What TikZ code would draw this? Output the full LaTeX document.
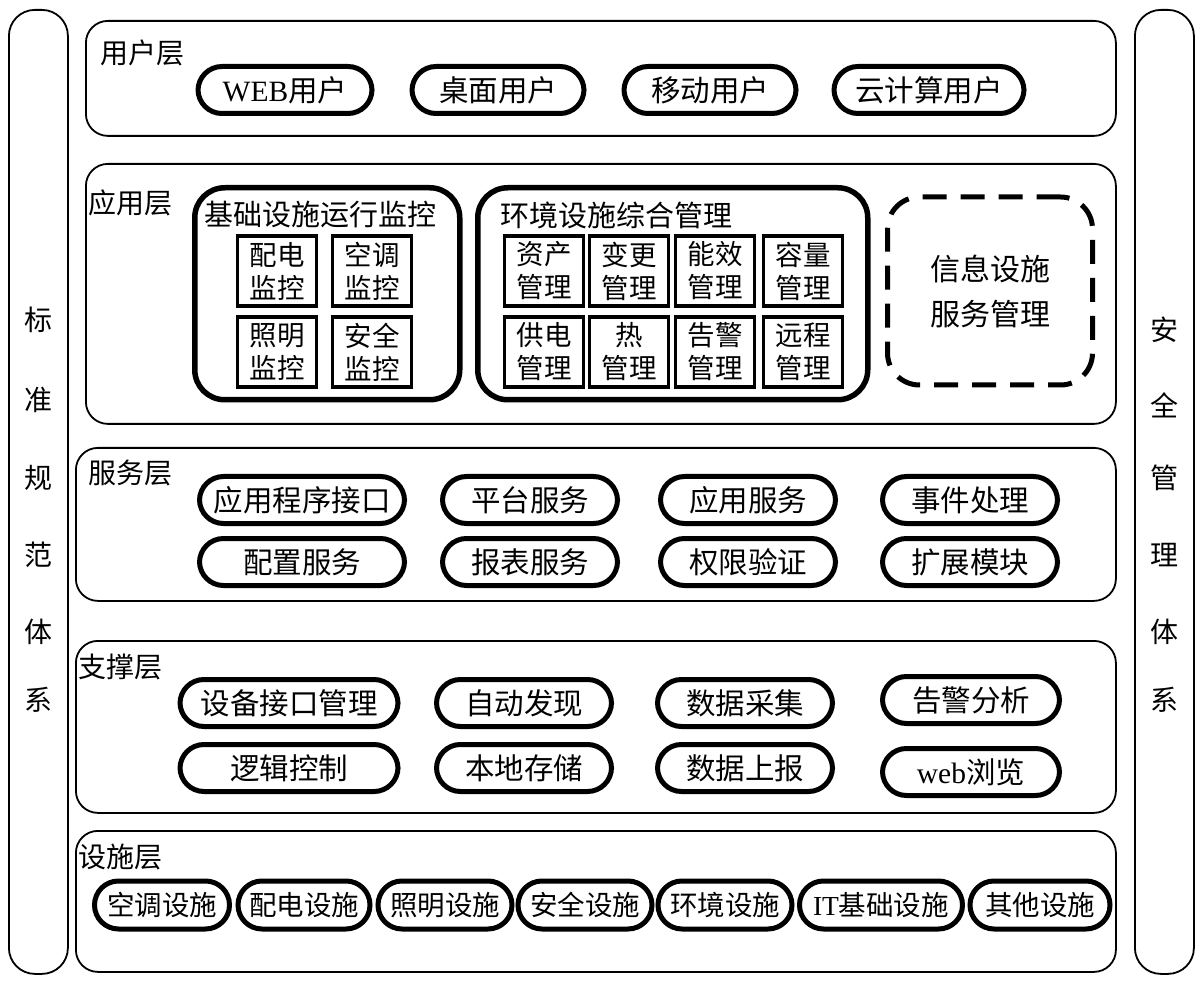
\documentclass[tikz,border=0pt]{standalone}
\usepackage{fontspec}
\setmainfont{Liberation Serif}
\newfontfamily\cjk{Noto Sans CJK SC}
\newfontfamily\lat{Liberation Serif}
\begin{document}
\begin{tikzpicture}[x=1pt,y=-1pt,
  layer/.style={draw, line width=1.8pt, rounded corners=22pt, anchor=north west, inner sep=0pt},
  sidebar/.style={draw, line width=1.8pt, rounded corners=26pt, anchor=north west, inner sep=0pt},
  pill/.style={draw, line width=5pt, rounded corners=24pt, minimum height=47pt, inner sep=0pt, font=\cjk\fontsize{29.5}{30}\selectfont},
  fpill/.style={pill, minimum height=48pt, font=\cjk\fontsize{27.5}{28}\selectfont},
  sq/.style={draw, line width=3.5pt, minimum width=79pt, minimum height=70pt, inner sep=0pt, align=center, font=\cjk\fontsize{27.5}{33}\selectfont},
  bigbox/.style={draw, line width=5.5pt, rounded corners=30pt, anchor=north west, inner sep=0pt},
  lab/.style={font=\cjk\fontsize{28}{28}\selectfont, inner sep=0pt},
  side/.style={font=\cjk\fontsize{28}{28}\selectfont, inner sep=0pt}]
\useasboundingbox (0,0) rectangle (1200,981);
% side bars
\node[sidebar, minimum width=59pt, minimum height=964pt] (lbar) at (8,9) {};
\node[sidebar, minimum width=59pt, minimum height=964pt] (rbar) at (1134,9) {};
\foreach \c/\y [count=\i] in {标/320,准/400,规/478,范/555,体/632,系/700}
  \node[side] (ls\i) at (38,\y) {\c};
\foreach \c/\y [count=\i] in {安/330,全/405,管/478,理/555,体/632,系/700}
  \node[side] (rs\i) at (1164,\y) {\c};
% layers
\node[layer, minimum width=1030pt, minimum height=115pt] (user) at (85,20) {};
\node[layer, minimum width=1030pt, minimum height=260pt] (app) at (85,163) {};
\node[layer, minimum width=1040pt, minimum height=153pt] (svc) at (75,447) {};
\node[layer, minimum width=1040pt, minimum height=172pt] (sup) at (75,640) {};
\node[layer, minimum width=1040pt, minimum height=141pt] (fac) at (75,830) {};
% layer labels
\node[lab, anchor=west] (userlab) at (100,53) {用户层};
\node[lab, anchor=west] (applab) at (88,203) {应用层};
\node[lab, anchor=west] (svclab) at (88,473) {服务层};
\node[lab, anchor=west] (suplab) at (78,667) {支撑层};
\node[lab, anchor=west] (faclab) at (78,857) {设施层};
% user layer
\node[pill, minimum width=174pt] (u1) at (285,90) {{\lat WEB}用户};
\node[pill, minimum width=172pt] (u2) at (498,90) {桌面用户};
\node[pill, minimum width=172pt] (u3) at (710,90) {移动用户};
\node[pill, minimum width=190pt] (u4) at (929,90) {云计算用户};
% app layer
\node[bigbox, minimum width=265pt, minimum height=212pt] (mon) at (192,185) {};
\node[lab, anchor=west, font=\cjk\fontsize{29}{29}\selectfont] (montitle) at (204,215) {基础设施运行监控};
\node[sq] (m1) at (277,271) {配电\\监控};
\node[sq] (m2) at (372,271) {空调\\监控};
\node[sq] (m3) at (277,352) {照明\\监控};
\node[sq] (m4) at (372,352) {安全\\监控};
\node[bigbox, minimum width=390pt, minimum height=212pt] (env) at (475,185) {};
\node[lab, anchor=west, font=\cjk\fontsize{29}{29}\selectfont] (envtitle) at (500,215) {环境设施综合管理};
\node[sq] (e1) at (544,271) {资产\\管理};
\node[sq] (e2) at (629,271) {变更\\管理};
\node[sq] (e3) at (715,271) {能效\\管理};
\node[sq] (e4) at (803,271) {容量\\管理};
\node[sq] (e5) at (544,352) {供电\\管理};
\node[sq] (e6) at (629,352) {热\\管理};
\node[sq] (e7) at (715,352) {告警\\管理};
\node[sq] (e8) at (803,352) {远程\\管理};
\node[draw, line width=5pt, dash pattern=on 24pt off 14pt, rounded corners=32pt, minimum width=205pt, minimum height=188pt, inner sep=0pt, align=center, font=\cjk\fontsize{30}{45}\selectfont] (info) at (990,291) {信息设施\\服务管理};
% service layer
\node[pill, minimum width=205pt] (s1) at (302,500) {应用程序接口};
\node[pill, minimum width=175pt] (s2) at (530,500) {平台服务};
\node[pill, minimum width=175pt] (s3) at (748,500) {应用服务};
\node[pill, minimum width=175pt] (s4) at (970,500) {事件处理};
\node[pill, minimum width=205pt] (s5) at (302,562) {配置服务};
\node[pill, minimum width=175pt] (s6) at (530,562) {报表服务};
\node[pill, minimum width=175pt] (s7) at (748,562) {权限验证};
\node[pill, minimum width=175pt] (s8) at (970,562) {扩展模块};
% support layer
\node[pill, minimum width=218pt] (p1) at (289,703) {设备接口管理};
\node[pill, minimum width=175pt] (p2) at (524,703) {自动发现};
\node[pill, minimum width=175pt] (p3) at (745,703) {数据采集};
\node[pill, minimum width=177pt] (p4) at (971,700) {告警分析};
\node[pill, minimum width=218pt] (p5) at (289,768) {逻辑控制};
\node[pill, minimum width=175pt] (p6) at (524,768) {本地存储};
\node[pill, minimum width=175pt] (p7) at (745,768) {数据上报};
\node[pill, minimum width=177pt] (p8) at (971,772) {{\lat web}浏览};
% facility layer
\node[fpill, minimum width=135pt] (f1) at (162,905) {空调设施};
\node[fpill, minimum width=132pt] (f2) at (304,905) {配电设施};
\node[fpill, minimum width=134pt] (f3) at (445,905) {照明设施};
\node[fpill, minimum width=134pt] (f4) at (585,905) {安全设施};
\node[fpill, minimum width=134pt] (f5) at (725,905) {环境设施};
\node[fpill, minimum width=163pt] (f6) at (881,905) {{\lat IT}基础设施};
\node[fpill, minimum width=140pt] (f7) at (1040,905) {其他设施};
\end{tikzpicture}
\end{document}
